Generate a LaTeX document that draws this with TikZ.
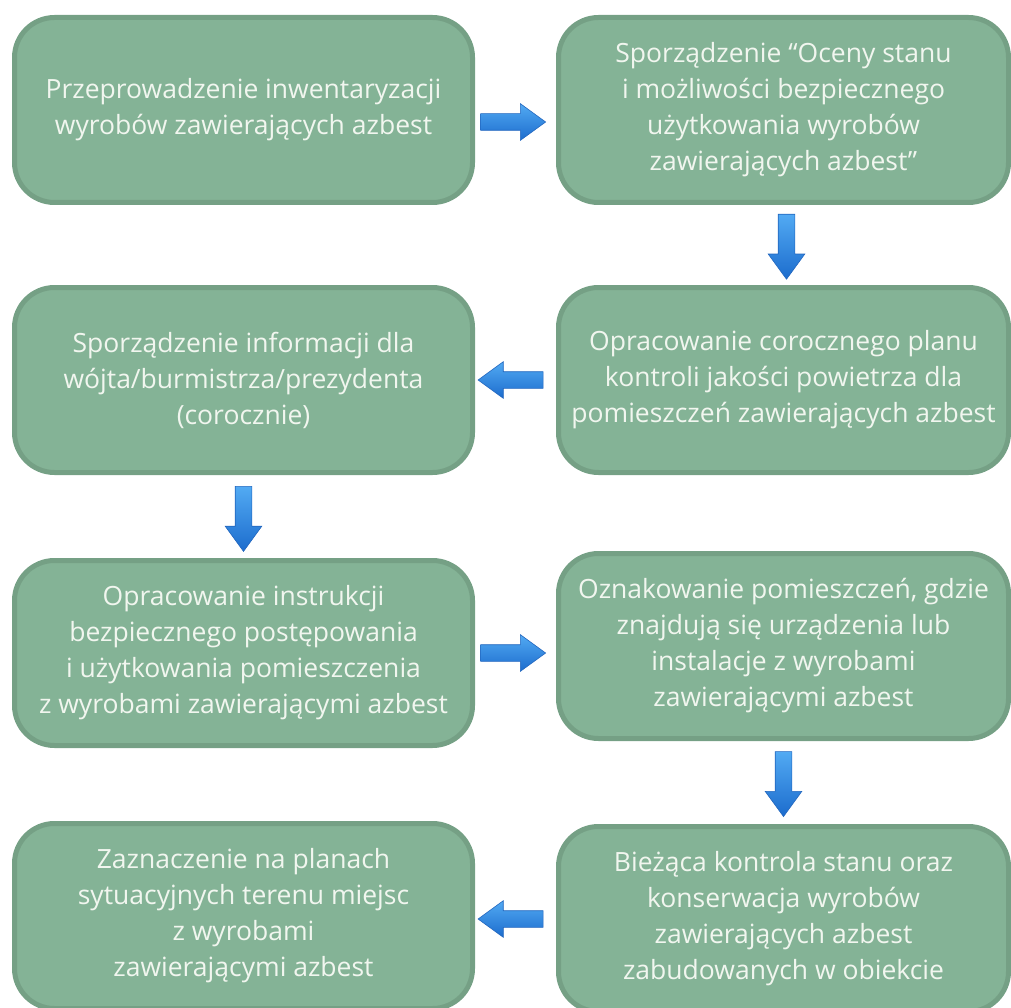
\documentclass[tikz,border=0pt]{standalone}
\usepackage{fontspec}
\setmainfont{Open Sans}
\usetikzlibrary{shapes.arrows}
\definecolor{boxfill}{RGB}{132,179,150}
\definecolor{boxline}{RGB}{117,160,133}
\definecolor{boxtext}{RGB}{241,246,239}
\definecolor{arrowtop}{RGB}{82,170,243}
\definecolor{arrowbot}{RGB}{28,108,205}
\definecolor{arrowline}{RGB}{34,102,190}

\begin{document}
\begin{tikzpicture}[x=1pt,y=1pt,
    box/.style={draw=boxline, line width=5pt, fill=boxfill, rounded corners=40pt,
      minimum height=185pt, inner sep=0pt, align=center, text=boxtext,
      font=\fontsize{26.5}{36}\selectfont},
    leftbox/.style={box, minimum width=458pt},
    rightbox/.style={box, minimum width=450pt},
    blockarrow/.style={single arrow, draw=arrowline, line width=0.6pt,
      top color=arrowtop, bottom color=arrowbot, inner xsep=0pt, inner ysep=8pt,
      single arrow head extend=10pt, single arrow tip angle=72,
      minimum height=65pt, sloped, allow upside down}]
    \useasboundingbox (0,0) rectangle (1011,-1008);
    \node[leftbox] (inw) at (243.5,-110) {Przeprowadzenie inwentaryzacji\\wyrobów zawierających azbest};
    \node[rightbox] (ocena) at (783.5,-110) {Sporządzenie “Oceny stanu\\i możliwości bezpiecznego\\użytkowania wyrobów\\zawierających azbest”};
    \node[rightbox] (plan) at (783.5,-380) {Opracowanie corocznego planu\\kontroli jakości powietrza dla\\pomieszczeń zawierających azbest};
    \node[leftbox] (info) at (243.5,-380) {Sporządzenie informacji dla\\wójta/burmistrza/prezydenta\\(corocznie)};
    \node[leftbox] (instr) at (243.5,-653) {Opracowanie instrukcji\\bezpiecznego postępowania\\i użytkowania pomieszczenia\\z wyrobami zawierającymi azbest};
    \node[rightbox] (oznak) at (783.5,-646) {Oznakowanie pomieszczeń, gdzie\\znajdują się urządzenia lub\\instalacje z wyrobami\\zawierającymi azbest};
    \node[rightbox] (kontr) at (783.5,-919) {Bieżąca kontrola stanu oraz\\konserwacja wyrobów\\zawierających azbest\\zabudowanych w obiekcie};
    \node[leftbox] (plany) at (243.5,-916) {Zaznaczenie na planach\\sytuacyjnych terenu miejsc\\z wyrobami\\zawierającymi azbest};

    \path ([yshift=-12pt]inw.east) -- node[blockarrow, pos=0.4] {} ([yshift=-12pt]inw.east -| ocena.west);
    \path ([xshift=3pt]ocena.south) -- node[blockarrow, pos=0.45] {} ([xshift=3pt]plan.north);
    \path (plan.west) -- node[blockarrow, pos=0.49] {} (plan.west -| info.east);
    \path (info.south) -- node[blockarrow, pos=0.46] {} (instr.north);
    \path (instr.east) -- node[blockarrow, pos=0.4] {} (instr.east -| oznak.west);
    \path (oznak.south) -- node[blockarrow, pos=0.45] {} (kontr.north);
    \path (kontr.west) -- node[blockarrow, pos=0.49] {} (kontr.west -| plany.east);
\end{tikzpicture}
\end{document}
